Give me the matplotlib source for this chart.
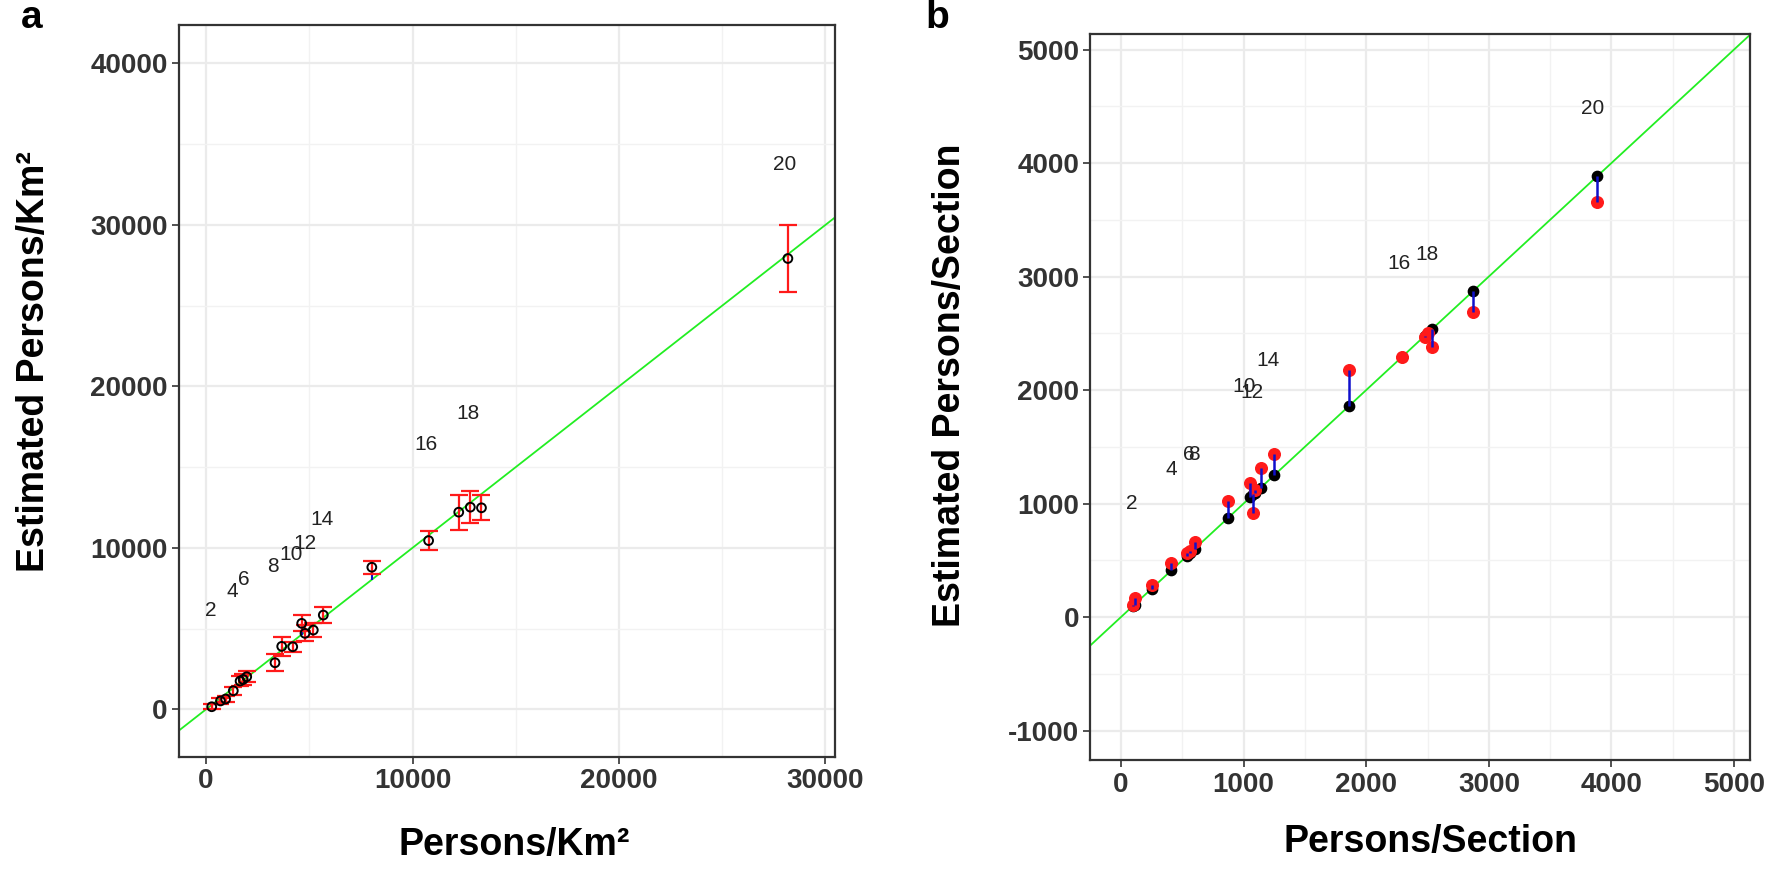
import numpy as np
import matplotlib.pyplot as plt
from matplotlib.ticker import MultipleLocator

plt.rcParams['axes.unicode_minus'] = False

# ---- datos panel a (Persons/Km2) ----
a_x = [276, 700, 950, 1322, 1650, 1800, 1971, 3341, 3666, 4199,
       4634, 4794, 5196, 5680, 8030, 10780, 12240, 12800, 13340, 28180]
a_y = [161, 520, 640, 1152, 1750, 1850, 2019, 2885, 3900, 3876,
       5325, 4706, 4910, 5839, 8800, 10450, 12210, 12520, 12480, 27920]
a_err = [150, 180, 200, 250, 300, 350, 330, 520, 600, 300,
         500, 500, 450, 520, 390, 590, 1085, 990, 765, 2090]
a_lab = ['2', '4', '6', '8', '10', '12', '14', '16', '18', '20']
a_lab_x = [220, 1260, 1810, 3240, 4120, 4780, 5600, 10660, 12690, 28020]
a_lab_y = [6100, 7290, 8060, 8830, 9600, 10300, 11770, 16390, 18350, 33770]

# ---- datos panel b (Persons/Section) ----
b_x = [100, 110, 250, 410, 535, 565, 600, 870, 1055, 1080,
       1090, 1140, 1250, 1860, 2290, 2480, 2500, 2540, 2870, 3885]
b_est = [105, 165, 282, 478, 560, 580, 660, 1020, 1180, 920,
         1120, 1310, 1440, 2176, 2290, 2470, 2500, 2380, 2690, 3659]
b_lab = ['2', '4', '6', '8', '10', '12', '14', '16', '18', '20']
b_lab_x = [87, 408, 549, 595, 1003, 1066, 1202, 2268, 2496, 3847]
b_lab_y = [1002, 1304, 1436, 1436, 2029, 1976, 2258, 3119, 3198, 4482]

lab_font = dict(family=['Liberation Sans Narrow', 'Liberation Sans'], weight='bold', size=27, color='black')
pt_font = dict(family=['Liberation Sans'], size=15, color='#222222')


def estilo(ax, major, minor):
    ax.set_facecolor('white')
    ax.xaxis.set_major_locator(MultipleLocator(major))
    ax.yaxis.set_major_locator(MultipleLocator(major))
    ax.xaxis.set_minor_locator(MultipleLocator(minor))
    ax.yaxis.set_minor_locator(MultipleLocator(minor))
    ax.grid(which='major', color='#ebebeb', lw=1.6, zorder=0)
    ax.grid(which='minor', color='#f2f2f2', lw=1.0, zorder=0)
    ax.set_axisbelow(True)
    for s in ax.spines.values():
        s.set_color('#333333')
        s.set_linewidth(1.6)
    ax.tick_params(which='major', length=5, width=1.2, color='#333333', pad=3)
    ax.tick_params(which='minor', length=0)
    ax.tick_params(labelsize=20, labelcolor='#333333')
    for t in ax.get_xticklabels() + ax.get_yticklabels():
        t.set_family('Liberation Sans')
        t.set_weight('bold')


fig = plt.figure(figsize=(17.72, 8.73), dpi=100)
fig.patch.set_facecolor('white')

# ---- panel a ----
ax1 = fig.add_axes([0.1008, 0.1329, 0.3704, 0.8385])
ax1.set_xlim(-1327, 30460)
ax1.set_ylim(-2950, 42380)
xx = np.array(ax1.get_xlim())
ax1.plot(xx, xx, color='#22ee22', lw=1.3, zorder=2)
ax1.vlines(a_x, a_x, a_y, color='#1010cc', lw=1.5, zorder=3)
ax1.errorbar(a_x, a_y, yerr=a_err, fmt='none', ecolor='#ff1a1a', elinewidth=1.6,
             capsize=6.5, capthick=1.6, zorder=4)
ax1.scatter(a_x, a_y, s=40, facecolors='none', edgecolors='black', linewidths=1.4, zorder=5)
for t, x, y in zip(a_lab, a_lab_x, a_lab_y):
    ax1.text(x, y, t, ha='center', va='center', **pt_font)
estilo(ax1, 10000, 5000)

# ---- panel b ----
ax2 = fig.add_axes([0.6154, 0.1289, 0.3722, 0.8322])
ax2.set_xlim(-249, 5130)
ax2.set_ylim(-1264, 5137)
xx = np.array(ax2.get_xlim())
ax2.plot(xx, xx, color='#22ee22', lw=1.3, zorder=2)
ax2.scatter(b_x, b_x, s=55, color='black', zorder=4)
ax2.scatter(b_x, b_est, s=70, color='#ff1a1a', zorder=5)
ax2.vlines(b_x, b_x, b_est, color='#1010cc', lw=1.8, zorder=6)
for t, x, y in zip(b_lab, b_lab_x, b_lab_y):
    ax2.text(x, y, t, ha='center', va='center', **pt_font)
estilo(ax2, 1000, 500)

# ---- títulos de ejes y letras ----
fig.text(514 / 1772, 1 - 845 / 873, 'Persons/Km²', ha='center', va='center', **lab_font)
fig.text(34 / 1772, 1 - 362 / 873, 'Estimated Persons/Km²', ha='center', va='center',
         rotation=90, **lab_font)
fig.text(1430 / 1772, 1 - 842 / 873, 'Persons/Section', ha='center', va='center', **lab_font)
fig.text(950 / 1772, 1 - 385 / 873, 'Estimated Persons/Section', ha='center', va='center',
         rotation=90, **lab_font)
fig.text(32 / 1772, 1 - 18 / 873, 'a', ha='center', va='center', family='Liberation Sans',
         weight='bold', size=28)
fig.text(937 / 1772, 1 - 18 / 873, 'b', ha='center', va='center', family='Liberation Sans',
         weight='bold', size=28)

plt.savefig('out.png', dpi=100, facecolor='white')
